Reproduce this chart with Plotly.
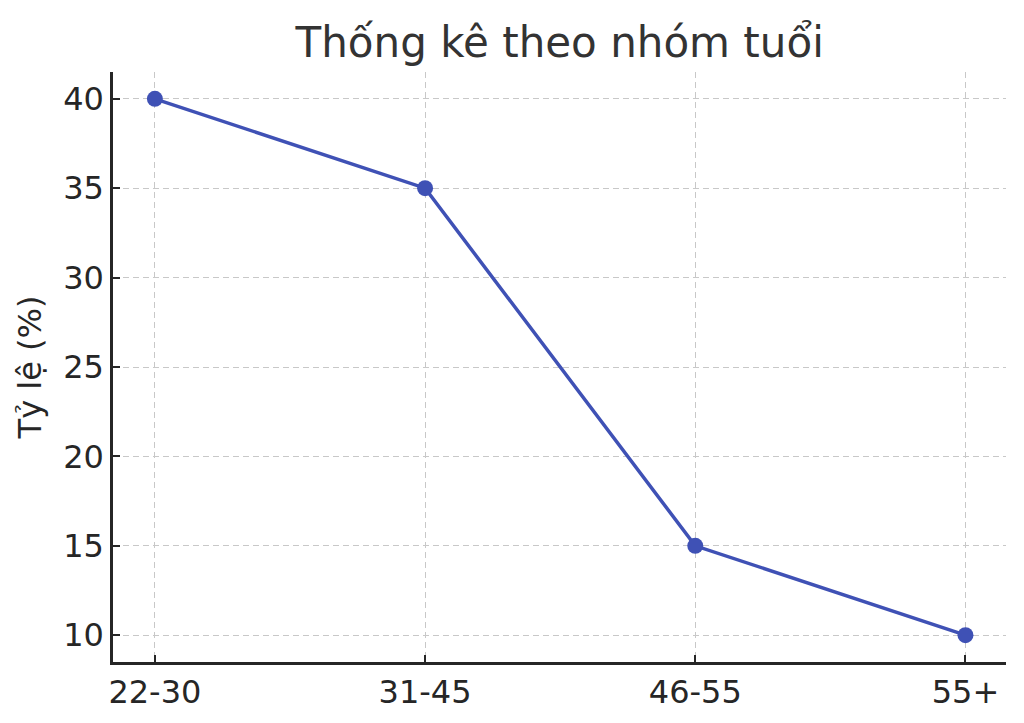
import plotly.graph_objects as go

categories = ["22-30", "31-45", "46-55", "55+"]
values = [40, 35, 15, 10]
y_ticks = [10, 15, 20, 25, 30, 35, 40]

color = "#3F51B5"
font = "DejaVu Sans"

fig = go.Figure()
fig.add_trace(go.Scatter(
    x=list(range(len(categories))), y=values, mode="lines+markers",
    line=dict(color=color, width=3.5),
    marker=dict(color=color, size=16),
    showlegend=False,
))

fig.update_layout(
    width=1016, height=715,
    paper_bgcolor="white", plot_bgcolor="white",
    margin=dict(l=105, r=18, t=64, b=53),
    font=dict(family=font, color="#262626", size=32),
    title=dict(text="Thống kê theo nhóm tuổi", x=0.543, xanchor="center",
               y=0.952, yanchor="middle",
               font=dict(size=42, family=font, color="#333333")),
)
fig.update_xaxes(
    range=[-0.155, 3.15],
    tickmode="array", tickvals=list(range(len(categories))), ticktext=categories,
    showgrid=True, gridcolor="#c8c8c8", griddash="6px,4px", gridwidth=1.2,
    showline=True, linecolor="#262626", linewidth=2.5,
    ticks="inside", ticklen=7, tickwidth=2, tickcolor="#262626",
    zeroline=False, tickfont=dict(size=32, color="#262626"),
)
fig.update_yaxes(
    range=[8.5, 41.5],
    tickmode="array", tickvals=y_ticks,
    showgrid=True, gridcolor="#c8c8c8", griddash="6px,4px", gridwidth=1.2,
    showline=True, linecolor="#262626", linewidth=2.5,
    ticks="inside", ticklen=7, tickwidth=2, tickcolor="#262626",
    zeroline=False, tickfont=dict(size=32, color="#262626"),
    title=dict(text="Tỷ lệ (%)", font=dict(size=32, color="#262626"), standoff=12),
)

fig.write_html("out.html")
